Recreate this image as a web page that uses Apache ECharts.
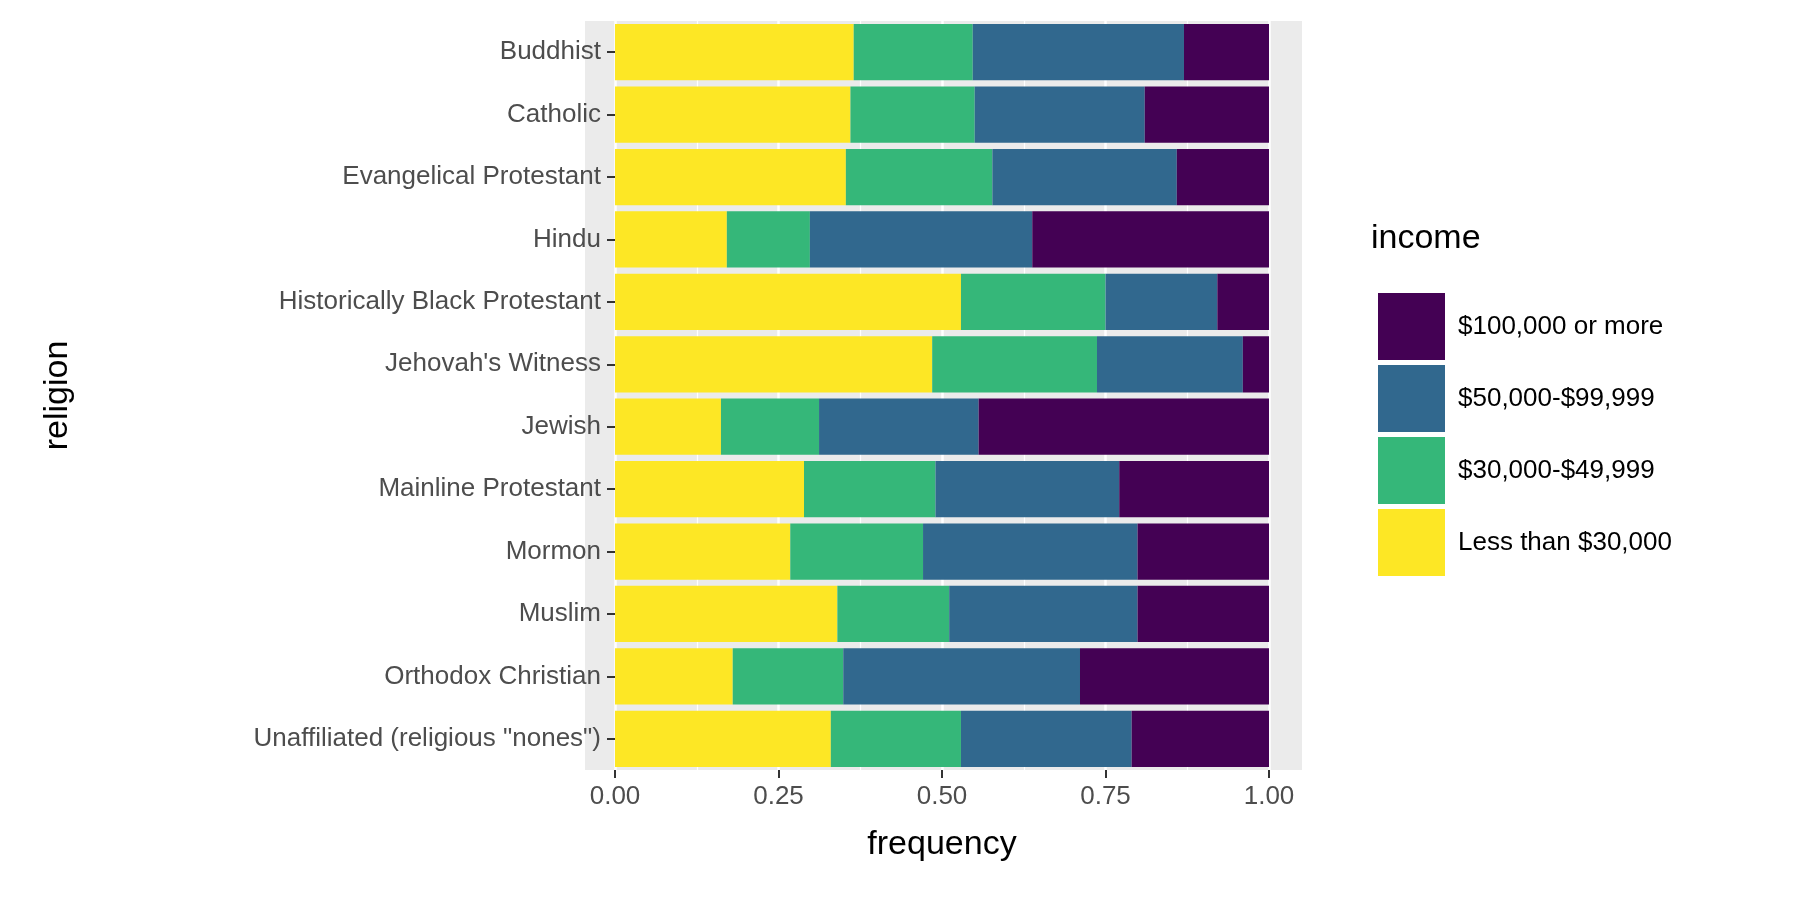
<!DOCTYPE html>
<html>
<head>
<meta charset="UTF-8">
<title>religion income</title>
<script src="https://cdn.jsdelivr.net/npm/echarts@6/dist/echarts.min.js"></script>
<style>html,body{margin:0;background:#fff}#main{width:1800px;height:900px}</style>
</head>
<body>
<div id="main"></div>
<script>
var religions = ['Buddhist', 'Catholic', 'Evangelical Protestant', 'Hindu', 'Historically Black Protestant',
    "Jehovah's Witness", 'Jewish', 'Mainline Protestant', 'Mormon', 'Muslim', 'Orthodox Christian',
    'Unaffiliated (religious "nones")'];
var lessThan30k = [0.365, 0.360, 0.353, 0.171, 0.529, 0.485, 0.162, 0.289, 0.268, 0.340, 0.180, 0.330];
var from30to50k = [0.182, 0.190, 0.224, 0.127, 0.221, 0.252, 0.150, 0.201, 0.203, 0.171, 0.169, 0.199];
var from50to100k = [0.323, 0.260, 0.282, 0.340, 0.171, 0.223, 0.244, 0.281, 0.328, 0.288, 0.362, 0.261];
var over100k = [0.130, 0.190, 0.141, 0.362, 0.079, 0.040, 0.444, 0.229, 0.201, 0.201, 0.289, 0.210];
var xTicks = ['0.00', '0.25', '0.50', '0.75', '1.00'];

var chart = echarts.init(document.getElementById('main'));
var font = 'Liberation Sans, Arial, sans-serif';
function bar(name, data, color) {
    return { name: name, type: 'bar', stack: 'all', data: data, barWidth: '90%',
        xAxisIndex: 1, yAxisIndex: 1, itemStyle: { color: color } };
}
chart.setOption({
    animation: false,
    textStyle: { fontFamily: font },
    grid: [
        { left: 585, right: 498, top: 21, bottom: 130, show: true, backgroundColor: '#EBEBEB', borderWidth: 0 },
        { left: 615, right: 531, top: 21, bottom: 130 }
    ],
    xAxis: [
        { gridIndex: 0, type: 'value', min: 0, max: 1, show: false },
        { gridIndex: 1, type: 'value', min: 0, max: 1, interval: 0.25,
          name: 'frequency', nameLocation: 'middle', nameGap: 58,
          nameTextStyle: { fontSize: 34, color: '#000' },
          axisLine: { show: false },
          axisTick: { show: true, length: 8, lineStyle: { color: '#333', width: 2 } },
          axisLabel: { fontSize: 26, color: '#4d4d4d', margin: 14,
              formatter: function (v) { return xTicks[Math.round(v * 4)]; } },
          splitLine: { show: true, lineStyle: { color: '#fff', width: 2.5 } },
          minorTick: { show: false, splitNumber: 2 },
          minorSplitLine: { show: true, lineStyle: { color: '#fff', width: 1.2 } } }
    ],
    yAxis: [
        { gridIndex: 0, type: 'value', show: false },
        { gridIndex: 1, type: 'category', data: religions, inverse: true,
          name: 'religion', nameLocation: 'middle', nameGap: 540, nameRotate: 90,
          nameTextStyle: { fontSize: 34, color: '#000' },
          axisLine: { show: false },
          axisTick: { show: true, alignWithLabel: true, length: 8, lineStyle: { color: '#333', width: 2 } },
          axisLabel: { fontSize: 26, color: '#4d4d4d', margin: 14 } }
    ],
    legend: {
        orient: 'vertical', left: 1373, top: 288, itemWidth: 67, itemHeight: 67, itemGap: 5,
        icon: 'rect', textStyle: { fontSize: 26, color: '#000', padding: [0, 0, 0, 8] },
        data: ['$100,000 or more', '$50,000-$99,999', '$30,000-$49,999', 'Less than $30,000']
    },
    graphic: [{ type: 'text', left: 1371, top: 222,
        style: { text: 'income', fontSize: 34, fill: '#000', fontFamily: font } }],
    series: [
        bar('Less than $30,000', lessThan30k, '#FDE725'),
        bar('$30,000-$49,999', from30to50k, '#35B779'),
        bar('$50,000-$99,999', from50to100k, '#31688E'),
        bar('$100,000 or more', over100k, '#440154')
    ]
});
</script>
</body>
</html>
